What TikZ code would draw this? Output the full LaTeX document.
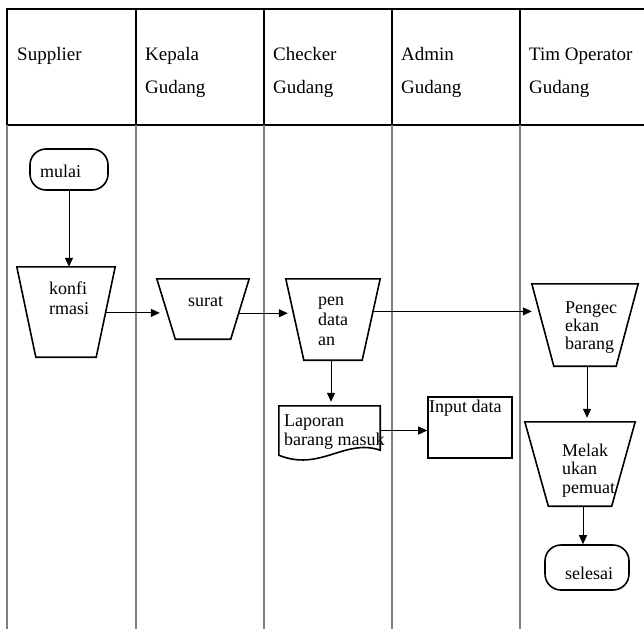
\documentclass[tikz,border=0pt]{standalone}
\usepackage{fontspec}
\setmainfont{Liberation Serif}
\usetikzlibrary{arrows.meta,calc}
\begin{document}
\begin{tikzpicture}[x=1pt,y=-1pt,
  hdr/.style={line width=2pt,black},
  lane/.style={line width=1.3pt,black!50},
  shp/.style={line width=1.6pt,line join=miter},
  box/.style={rectangle,inner sep=0pt,draw=none},
  lbl/.style={anchor=base west,inner sep=0pt,font=\fontsize{18}{20}\selectfont,align=left},
  hlbl/.style={anchor=base west,inner sep=0pt,font=\fontsize{19}{33}\selectfont,align=left},
  term/.style={draw,line width=1.6pt,rounded corners=16pt,rectangle,inner sep=0pt},
  arr/.style={line width=1pt,-{Triangle[length=9pt,width=8pt]}}]
\useasboundingbox (0,0) rectangle (644,629);

% swimlane header and lanes
\draw[hdr] (644,9) -- (7,9) -- (7,125) -- (644,125);
\foreach \x in {136,264,392,520} \draw[hdr] (\x,9) -- (\x,125);
\foreach \x in {7,136,264,392,520} \draw[lane] (\x,125) -- (\x,629);

% labels are placed at the baseline of their last line
\node[hlbl] (h1) at (17,60) {Supplier};
\node[hlbl] (h2) at (145,93) {Kepala\\Gudang};
\node[hlbl] (h3) at (273,93) {Checker\\Gudang};
\node[hlbl] (h4) at (401,93) {Admin\\Gudang};
\node[hlbl] (h5) at (529,93) {Tim Operator\\Gudang};

% manual-operation trapezia: wide top, narrow bottom
\newcommand{\trapeze}[2]{%
  \draw[shp] (#1.north west) -- (#1.north east) -- ([xshift=-#2]#1.south east)
    -- ([xshift=#2]#1.south west) -- cycle;}

% Supplier
\node[term,minimum width=78pt,minimum height=41pt] (mulai) at (69,169.5) {};
\node[lbl] (tmulai) at (40,177) {mulai};
\node[box,minimum width=98pt,minimum height=90pt] (konf) at (66,312) {};
\trapeze{konf}{19pt}
\node[lbl] (tkonf) at (49,314) {konfi\\rmasi};

% Kepala Gudang
\node[box,minimum width=92pt,minimum height=60pt] (surat) at (203,309) {};
\trapeze{surat}{18.5pt}
\node[lbl] (tsurat) at (188,306.5) {surat};

% Checker Gudang
\node[box,minimum width=94pt,minimum height=81pt] (pend) at (333,319.5) {};
\trapeze{pend}{18pt}
\node[lbl] (tpend) at (318,345.5) {pen\\data\\an};
\node[box,minimum width=101pt,minimum height=49pt] (lap) at (329.5,430.5) {};
\draw[shp] (lap.south west) -- (lap.north west) -- (lap.north east)
  -- ([yshift=5pt]lap.south east) .. controls (345,438) and (320,472) .. (lap.south west) -- cycle;
\node[lbl,font=\fontsize{18}{19}\selectfont] (tlap) at (284,445) {Laporan\\barang masuk};

% Admin Gudang
\node[draw,line width=1.6pt,minimum width=84pt,minimum height=61pt,inner sep=0pt] (inp) at (470,427.5) {};
\node[lbl] (tinp) at (429,412.5) {Input data};

% Tim Operator Gudang
\node[box,minimum width=106pt,minimum height=82pt] (cek) at (585,325) {};
\trapeze{cek}{22pt}
\node[lbl,font=\fontsize{18}{18}\selectfont] (tcek) at (565,349) {Pengec\\ekan\\barang};
\node[box,minimum width=110pt,minimum height=84pt] (muat) at (580,464) {};
\trapeze{muat}{23.5pt}
\node[lbl,font=\fontsize{18}{18.5}\selectfont] (tmuat) at (562,493) {Melak\\ukan\\pemuat};
\node[term,minimum width=84pt,minimum height=45pt] (sel) at (587,567.5) {};
\node[lbl] (tsel) at (565,579) {selesai};

% points on the slanted right sides where the flow leaves
\coordinate (k1) at ($(konf.north east)!0.51!([xshift=-19pt]konf.south east)$);
\coordinate (s1) at ($(surat.north east)!0.57!([xshift=-18.5pt]surat.south east)$);
\coordinate (p1) at ($(pend.north east)!0.40!([xshift=-18pt]pend.south east)$);

% flow
\draw[arr] (mulai.south) -- (mulai.south |- konf.north);
\draw[arr] (k1) -- ([xshift=3pt]k1 -| surat.west);
\draw[arr] (s1) -- ([xshift=2pt]s1 -| pend.west);
\draw[arr] (p1) -- (p1 -| cek.west);
\draw[arr,shorten >=4pt] ([xshift=-2pt]pend.south) -- ([xshift=-2pt]pend.south |- lap.north);
\draw[arr] (lap.east) -- (lap.east -| inp.west);
\draw[arr,shorten >=4pt] ([xshift=2pt]cek.south) -- ([xshift=2pt]cek.south |- muat.north);
\draw[arr] ([xshift=3pt]muat.south) -- ([xshift=3pt]muat.south |- sel.north);
\end{tikzpicture}
\end{document}
